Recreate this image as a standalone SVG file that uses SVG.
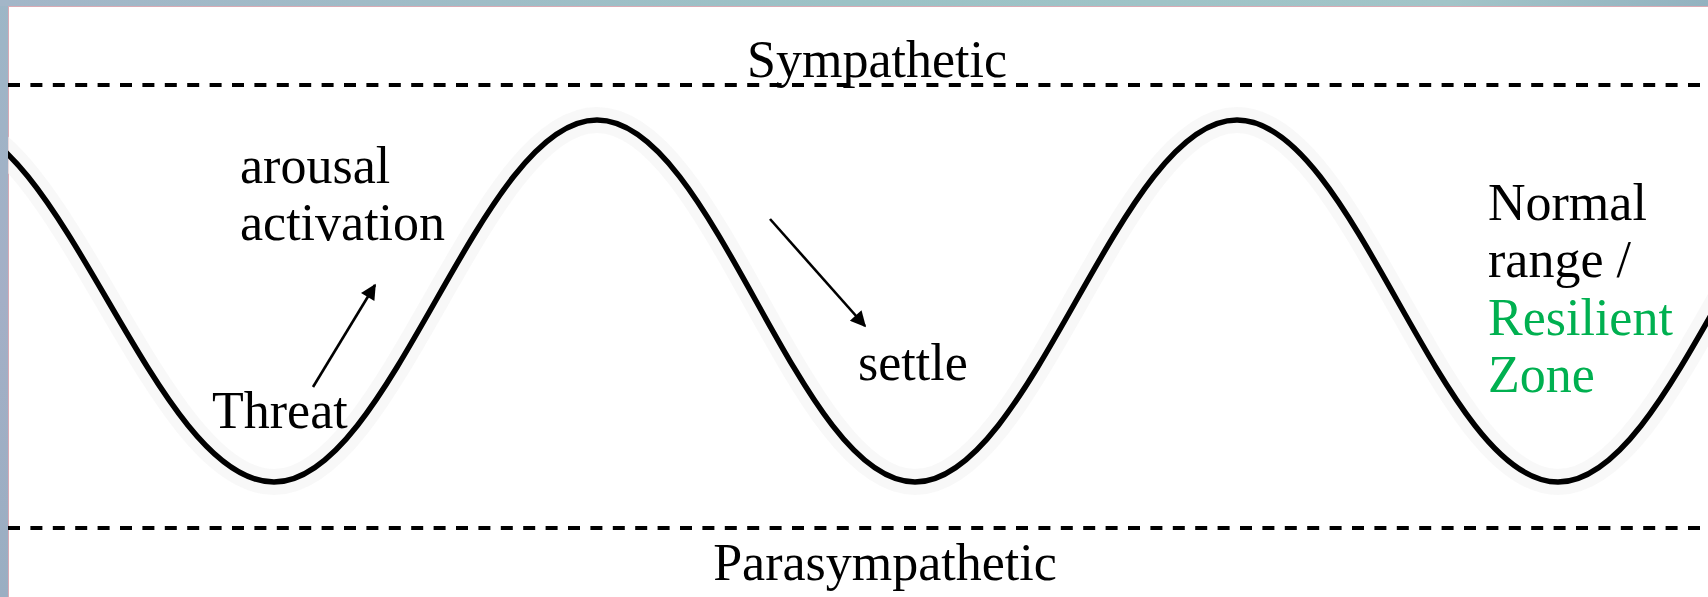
<svg xmlns="http://www.w3.org/2000/svg" width="1708" height="597" viewBox="0 0 1708 597">
  <defs>
    <linearGradient id="frameG" x1="0" y1="0" x2="0" y2="1">
      <stop offset="0" stop-color="#9db6c6"/>
      <stop offset="0.5" stop-color="#a4afc6"/>
      <stop offset="1" stop-color="#9aaec2"/>
    </linearGradient>
    <linearGradient id="topG" x1="0" y1="0" x2="1" y2="0">
      <stop offset="0" stop-color="#a3b6c8"/>
      <stop offset="0.5" stop-color="#9cc2c6"/>
      <stop offset="0.85" stop-color="#a2c4c8"/>
      <stop offset="1" stop-color="#93b2c0"/>
    </linearGradient>
    <clipPath id="inner">
      <rect x="8" y="6" width="1700" height="591"/>
    </clipPath>
    <marker id="ah" viewBox="0 0 10 10" refX="9" refY="5" markerWidth="7" markerHeight="6" orient="auto" markerUnits="strokeWidth">
      <path d="M0,0 L10,5 L0,10 Z" fill="#000"/>
    </marker>
    <style>
      .lbl { font-family: "Liberation Serif", "Times New Roman", serif; font-size: 52px; fill: #000; }
      .green { fill: #00b050; }
      .dash { stroke: #000; stroke-width: 4; stroke-dasharray: 12 10.4; fill: none; }
      .arrow { stroke: #000; stroke-width: 2.6; fill: none; marker-end: url(#ah); }
      .wave { fill: none; stroke: #000; stroke-width: 5.5; stroke-linejoin: round; }
      .halo { fill: none; stroke: #f4f4f4; stroke-width: 26; opacity: 0.6; }
    </style>
  </defs>

  <!-- frame -->
  <rect x="0" y="0" width="1708" height="597" fill="url(#frameG)"/>
  <rect x="0" y="0" width="1708" height="6" fill="url(#topG)"/>
  <rect x="8" y="6" width="1700" height="591" fill="#ffffff"/>
  <line x1="8.5" y1="6" x2="8.5" y2="597" stroke="#d9aab4" stroke-width="1"/>
  <line x1="8" y1="6.5" x2="1708" y2="6.5" stroke="#d9aab4" stroke-width="1"/>

  <!-- boundaries -->
  <g id="boundaries">
    <line class="dash" x1="8" y1="85" x2="1708" y2="85"/>
    <line class="dash" x1="8" y1="528" x2="1708" y2="528"/>
  </g>

  <!-- wave -->
  <g id="wave" clip-path="url(#inner)">
    <path class="halo" d="M -58 120 C 63 120 153 482 274 482 C 391 482 480 120 597 120 C 714 120 798 482 915 482 C 1032 482 1120 120 1237 120 C 1354 120 1441 482 1558 482 C 1675 482 1763 120 1880 120"/>
    <path class="wave" d="M -58 120 C 63 120 153 482 274 482 C 391 482 480 120 597 120 C 714 120 798 482 915 482 C 1032 482 1120 120 1237 120 C 1354 120 1441 482 1558 482 C 1675 482 1763 120 1880 120"/>
  </g>

  <!-- connectors -->
  <g id="connectors">
    <line class="arrow" x1="313" y1="387" x2="375" y2="285"/>
    <line class="arrow" x1="770" y1="219" x2="865" y2="326"/>
  </g>

  <!-- labels -->
  <g id="sympathetic">
    <text class="lbl" x="877" y="77" text-anchor="middle">Sympathetic</text>
  </g>
  <g id="parasympathetic">
    <text class="lbl" x="885" y="580" text-anchor="middle">Parasympathetic</text>
  </g>
  <g id="arousal">
    <text class="lbl" x="240" y="183">arousal</text>
    <text class="lbl" x="240" y="240">activation</text>
  </g>
  <g id="threat">
    <text class="lbl" x="212" y="428">Threat</text>
  </g>
  <g id="settle">
    <text class="lbl" x="858" y="380">settle</text>
  </g>
  <g id="normal-range">
    <text class="lbl" x="1488" y="220">Normal</text>
    <text class="lbl" x="1488" y="277">range /</text>
    <text class="lbl green" x="1488" y="335">Resilient</text>
    <text class="lbl green" x="1488" y="392">Zone</text>
  </g>
</svg>
